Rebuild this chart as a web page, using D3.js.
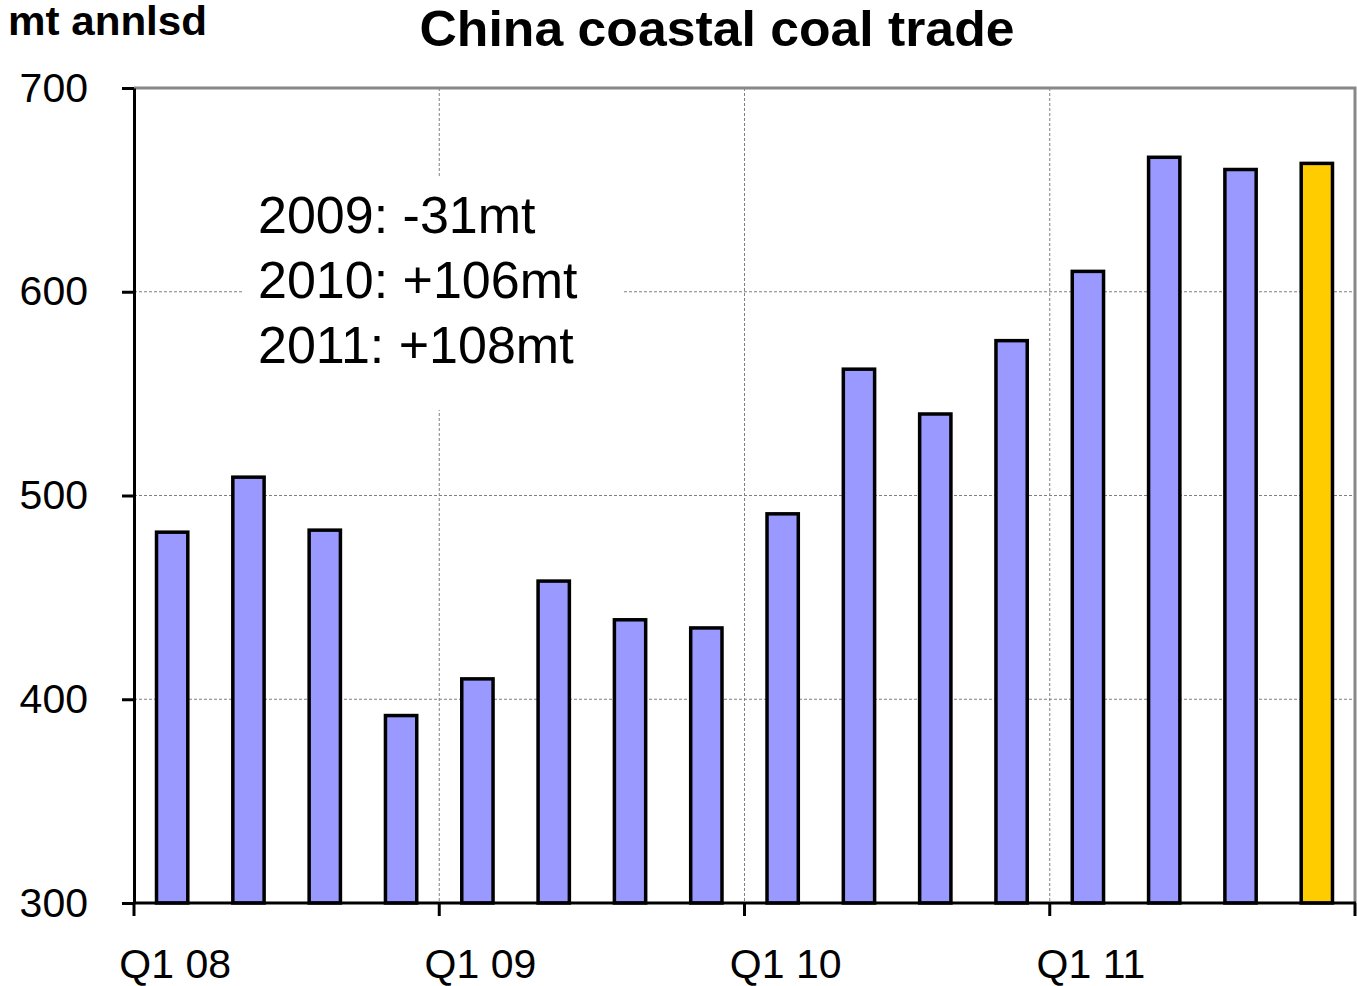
<!DOCTYPE html>
<html>
<head>
<meta charset="utf-8">
<script src="https://cdn.jsdelivr.net/npm/d3@7"></script>
<style>
  html, body { margin: 0; padding: 0; background: #fff; }
  svg { display: block; font-family: "Liberation Sans", Arial, sans-serif; }
</style>
</head>
<body>
<svg id="chart" width="1357" height="986"></svg>
<script>
// Quarterly categories, Q1 2008 – Q4 2011
const quarters = [
  "Q1 08", "Q2 08", "Q3 08", "Q4 08",
  "Q1 09", "Q2 09", "Q3 09", "Q4 09",
  "Q1 10", "Q2 10", "Q3 10", "Q4 10",
  "Q1 11", "Q2 11", "Q3 11", "Q4 11"
];
// Coastal coal trade, million tonnes annualised
const tradeValues = [482, 509, 483, 392, 410, 458, 439, 435, 491, 562, 540, 576, 610, 666, 660, 663];
// Last quarter is highlighted
const highlighted = [false, false, false, false, false, false, false, false,
                     false, false, false, false, false, false, false, true];
const yTicks = [300, 400, 500, 600, 700];
const xTickLabels = ["Q1 08", "Q1 09", "Q1 10", "Q1 11"];
const annotationLines = ["2009: -31mt", "2010: +106mt", "2011: +108mt"];

const svg = d3.select("#chart");
const plotLeft = 134, plotRight = 1355, plotTop = 88, plotBottom = 903;

const x = d3.scaleBand().domain(quarters).range([plotLeft, plotRight]).paddingInner(0.59).paddingOuter(0.295);
const y = d3.scaleLinear().domain([300, 700]).range([plotBottom, plotTop]);
const step = (plotRight - plotLeft) / quarters.length;

// Horizontal gridlines
svg.append("g").selectAll("line").data(yTicks.filter(v => v > 300 && v < 700)).join("line")
  .attr("x1", plotLeft).attr("x2", plotRight)
  .attr("y1", d => y(d)).attr("y2", d => y(d))
  .attr("stroke", "#808080").attr("stroke-width", 1).attr("stroke-dasharray", "3,2");

// Vertical gridlines at year boundaries
const yearStarts = xTickLabels.slice(1);
svg.append("g").selectAll("line").data(yearStarts).join("line")
  .attr("x1", d => x(d) - x.step() * x.paddingInner() / 2)
  .attr("x2", d => x(d) - x.step() * x.paddingInner() / 2)
  .attr("y1", plotTop).attr("y2", plotBottom)
  .attr("stroke", "#808080").attr("stroke-width", 1).attr("stroke-dasharray", "3,2");

// Annotation panel
svg.append("rect").attr("x", 243).attr("y", 178).attr("width", 379).attr("height", 232).attr("fill", "#fff");
svg.append("g").selectAll("text").data(annotationLines).join("text")
  .attr("x", 258).attr("y", (d, i) => 233 + i * 65)
  .attr("font-size", 52).attr("fill", "#000")
  .text(d => d);

// Bars
svg.append("g").selectAll("rect").data(tradeValues).join("rect")
  .attr("x", (d, i) => x(quarters[i]))
  .attr("y", d => y(d))
  .attr("width", x.bandwidth())
  .attr("height", d => plotBottom - y(d))
  .attr("fill", (d, i) => highlighted[i] ? "#FFCC00" : "#9999FF")
  .attr("stroke", "#000").attr("stroke-width", 3.5);

// Plot frame: top and right in grey
svg.append("path")
  .attr("d", `M${plotLeft},${plotTop}H${plotRight}V${plotBottom}`)
  .attr("fill", "none").attr("stroke", "#888").attr("stroke-width", 3);

// Y axis
const yAxis = d3.axisLeft(y).tickValues(yTicks).tickSize(12).tickSizeOuter(0).tickPadding(34);
const gy = svg.append("g").attr("transform", `translate(${plotLeft},0)`).call(yAxis);
gy.select(".domain").attr("stroke", "#000").attr("stroke-width", 3);
gy.selectAll(".tick line").attr("stroke", "#000").attr("stroke-width", 3);
gy.selectAll(".tick text").attr("font-size", 41).attr("font-family", "Liberation Sans, Arial, sans-serif").attr("fill", "#000");

// X axis: ticks at year boundaries, labels under first quarter of each year
const boundaries = d3.range(0, quarters.length + 1, 4).map(i => plotLeft + i * step);
svg.append("line").attr("x1", plotLeft - 1).attr("x2", plotRight + 1).attr("y1", plotBottom).attr("y2", plotBottom)
  .attr("stroke", "#000").attr("stroke-width", 3);
svg.append("g").selectAll("line").data(boundaries).join("line")
  .attr("x1", d => d).attr("x2", d => d)
  .attr("y1", plotBottom).attr("y2", plotBottom + 13)
  .attr("stroke", "#000").attr("stroke-width", 3);
svg.append("g").selectAll("text").data(xTickLabels).join("text")
  .attr("x", d => x(d) + x.bandwidth() / 2 + 3)
  .attr("y", 978)
  .attr("text-anchor", "middle")
  .attr("font-size", 41).attr("fill", "#000")
  .text(d => d);

// Title and unit label
svg.append("text").attr("x", 717).attr("y", 46).attr("text-anchor", "middle")
  .attr("font-size", 50).attr("font-weight", "bold").attr("fill", "#000")
  .attr("textLength", 595).attr("lengthAdjust", "spacingAndGlyphs")
  .text("China coastal coal trade");
svg.append("text").attr("x", 8).attr("y", 35)
  .attr("font-size", 40).attr("font-weight", "bold").attr("fill", "#000")
  .attr("textLength", 199).attr("lengthAdjust", "spacingAndGlyphs")
  .text("mt annlsd");
</script>
</body>
</html>
